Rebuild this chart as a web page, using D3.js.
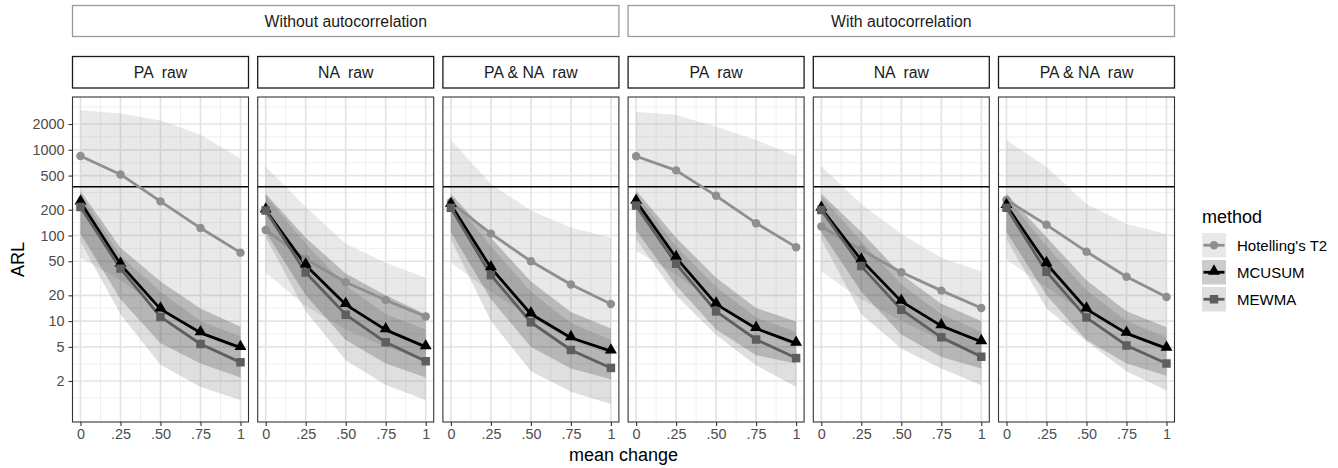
<!DOCTYPE html>
<html>
<head>
<meta charset="utf-8">
<script src="https://cdn.jsdelivr.net/npm/d3@7/dist/d3.min.js"></script>
<style>
  html, body { margin: 0; padding: 0; background: #ffffff; }
  svg { display: block; font-family: 'Liberation Sans', Arial, Helvetica, sans-serif; }
</style>
</head>
<body>
<div id="chart"></div>
<script>
// ARL by mean change, six facets (PA / NA / PA & NA, without / with autocorrelation)
const meanChange = [0, 0.25, 0.5, 0.75, 1]
const xTickLabels = ['0', '.25', '.50', '.75', '1']
const yTicks = [2, 5, 10, 20, 50, 100, 200, 500, 1000, 2000]
const panelLabels = ['PA  raw', 'NA  raw', 'PA & NA  raw', 'PA  raw', 'NA  raw', 'PA & NA  raw']
const groupLabels = ['Without autocorrelation', 'With autocorrelation']
const methods = ["Hotelling's T2", 'MCUSUM', 'MEWMA']
const targetARL = 370

// one row per panel, values at meanChange
const hotellingMean = [
  [847, 516, 250, 122, 63],
  [116, 53, 28.4, 17.6, 11.3],
  [244, 105, 50, 26.7, 15.8],
  [841, 575, 290, 139, 73],
  [127, 67.6, 37.2, 22.7, 14.2],
  [260, 133, 64.7, 32.9, 19.1]
]
const hotellingLow = [
  [55, 30, 14, 7, 4.5],
  [37, 15, 8, 5, 3.5],
  [48, 22, 11, 6, 4],
  [66, 35, 16, 8, 5],
  [38, 18, 10, 6, 4],
  [52, 25, 12, 7, 4.5]
]
const hotellingHigh = [
  [2900, 2650, 2200, 1500, 790],
  [640, 215, 80, 48, 32],
  [1300, 400, 195, 124, 94],
  [2790, 2550, 1860, 1300, 840],
  [641, 233, 104, 55, 38],
  [1300, 630, 233, 136, 104]
]
const mcusumMean = [
  [245, 46, 13.8, 7.3, 4.9],
  [198, 45, 15.6, 7.9, 5.0],
  [229, 41.9, 12.1, 6.4, 4.47],
  [250, 55, 15.8, 8.2, 5.5],
  [207, 51.6, 17, 8.8, 5.75],
  [223, 46.7, 13.8, 7.2, 4.8]
]
const mcusumLow = [
  [105, 18, 5.5, 3.2, 2.2],
  [110, 20, 6, 3.2, 2.2],
  [110, 18, 5, 2.8, 2.1],
  [115, 26, 8, 4, 3.2],
  [110, 22, 7, 3.8, 2.8],
  [110, 20, 6, 3.2, 2.3]
]
const mcusumHigh = [
  [330, 72, 29, 14, 8.6],
  [306, 94, 36, 20, 12],
  [306, 94, 29, 12.8, 8.2],
  [335, 94, 32, 14.2, 9.9],
  [306, 110, 35, 16, 10],
  [306, 95, 30, 13, 8.5]
]
const mewmaMean = [
  [215, 41, 11.2, 5.4, 3.3],
  [195, 37, 11.9, 5.65, 3.4],
  [210, 34.4, 9.7, 4.6, 2.84],
  [223, 46.7, 13, 6.1, 3.7],
  [198, 43.9, 13.6, 6.46, 3.84],
  [210, 37.6, 11, 5.2, 3.2]
]
const mewmaLow = [
  [85, 12, 3.1, 1.7, 1.2],
  [95, 13, 3.5, 1.8, 1.2],
  [90, 10, 2.6, 1.5, 1.08],
  [90, 20, 6.9, 3.06, 1.7],
  [90, 12, 4.8, 2.8, 1.78],
  [90, 14, 5.8, 2.6, 1.55]
]
const mewmaHigh = [
  [300, 58, 22, 10, 6.6],
  [290, 80, 26, 12, 8],
  [280, 75, 22, 9.5, 6],
  [300, 75, 25, 11, 7.5],
  [285, 85, 27, 12, 7.5],
  [280, 75, 23, 10, 6.5]
]

const W = 1338, H = 468
const panelTop = 97, panelBottom = 422
const panelW = 176, panelGap = 9.2, firstLeft = 72.5
const colors = ['#8f8f8f', '#000000', '#5e5e5e']
const symbols = [d3.symbolCircle, d3.symbolTriangle, d3.symbolSquare]
const symbolSizes = [56, 62, 72]
const font = "'Liberation Sans', Arial, Helvetica, sans-serif"

const svg = d3.select('#chart').append('svg').attr('width', W).attr('height', H)

const y = d3.scaleLog().domain([0.664, 4134]).range([panelBottom, panelTop])

// minor breaks: midpoints (in log space) between majors, extended one step each end
const lb = yTicks.map(Math.log10)
const step = lb[1] - lb[0]
const ext = [lb[0] - step, ...lb, lb[lb.length - 1] + step]
const yMinor = d3.range(ext.length - 1).map(i => Math.pow(10, (ext[i] + ext[i + 1]) / 2))
const xMinor = [0.125, 0.375, 0.625, 0.875]

const series = [
  { mean: hotellingMean, low: hotellingLow, high: hotellingHigh },
  { mean: mcusumMean, low: mcusumLow, high: mcusumHigh },
  { mean: mewmaMean, low: mewmaLow, high: mewmaHigh }
]

const lefts = panelLabels.map((_, i) => firstLeft + i * (panelW + panelGap))

// outer strips
groupLabels.forEach((lab, gi) => {
  const x0 = lefts[gi * 3], x1 = lefts[gi * 3 + 2] + panelW
  svg.append('rect').attr('x', x0).attr('y', 5.5).attr('width', x1 - x0).attr('height', 31)
    .attr('fill', '#ffffff').attr('stroke', '#9a9a9a').attr('stroke-width', 1.3)
  svg.append('text').attr('x', (x0 + x1) / 2).attr('y', 21).attr('dy', '0.35em')
    .attr('text-anchor', 'middle').attr('font-size', 15.8).attr('fill', '#1a1a1a').text(lab)
})

panelLabels.forEach((lab, p) => {
  const left = lefts[p]
  const x = d3.scaleLinear().domain([-0.05, 1.05]).range([left, left + panelW])

  // facet strip
  svg.append('rect').attr('x', left).attr('y', 56.5).attr('width', panelW).attr('height', 31.5)
    .attr('fill', '#ffffff').attr('stroke', '#1a1a1a').attr('stroke-width', 1.3)
  svg.append('text').attr('x', left + panelW / 2).attr('y', 72.3).attr('dy', '0.35em')
    .attr('text-anchor', 'middle').attr('font-size', 15.8).attr('fill', '#1a1a1a')
    .style('white-space', 'pre').attr('xml:space', 'preserve').text(lab)

  const clipId = 'clip' + p
  svg.append('clipPath').attr('id', clipId).append('rect')
    .attr('x', left).attr('y', panelTop).attr('width', panelW).attr('height', panelBottom - panelTop)
  const g = svg.append('g').attr('clip-path', `url(#${clipId})`)

  g.append('rect').attr('x', left).attr('y', panelTop).attr('width', panelW)
    .attr('height', panelBottom - panelTop).attr('fill', '#ffffff')

  // grid
  yMinor.forEach(v => g.append('line').attr('x1', left).attr('x2', left + panelW)
    .attr('y1', y(v)).attr('y2', y(v)).attr('stroke', '#efefef').attr('stroke-width', 1))
  xMinor.forEach(v => g.append('line').attr('y1', panelTop).attr('y2', panelBottom)
    .attr('x1', x(v)).attr('x2', x(v)).attr('stroke', '#efefef').attr('stroke-width', 1))
  yTicks.forEach(v => g.append('line').attr('x1', left).attr('x2', left + panelW)
    .attr('y1', y(v)).attr('y2', y(v)).attr('stroke', '#e4e4e4').attr('stroke-width', 1.7))
  meanChange.forEach(v => g.append('line').attr('y1', panelTop).attr('y2', panelBottom)
    .attr('x1', x(v)).attr('x2', x(v)).attr('stroke', '#e4e4e4').attr('stroke-width', 1.7))

  // ribbons
  series.forEach((s, m) => {
    const pts = meanChange.map((mc, i) => ({ mc, lo: s.low[p][i], hi: s.high[p][i] }))
    const area = d3.area().x(d => x(d.mc)).y0(d => y(d.lo)).y1(d => y(d.hi))
    g.append('path').datum(pts).attr('d', area).attr('fill', colors[m]).attr('fill-opacity', 0.2)
  })

  // reference ARL
  g.append('line').attr('x1', left).attr('x2', left + panelW)
    .attr('y1', y(targetARL)).attr('y2', y(targetARL)).attr('stroke', '#000').attr('stroke-width', 1.5)

  // lines
  series.forEach((s, m) => {
    const pts = meanChange.map((mc, i) => ({ mc, v: s.mean[p][i] }))
    const line = d3.line().x(d => x(d.mc)).y(d => y(d.v))
    g.append('path').datum(pts).attr('d', line).attr('fill', 'none')
      .attr('stroke', colors[m]).attr('stroke-width', 2.8).attr('stroke-linejoin', 'round')
  })
  // points
  series.forEach((s, m) => {
    const sym = d3.symbol().type(symbols[m]).size(symbolSizes[m])
    meanChange.forEach((mc, i) => {
      const dy = m === 1 ? -1 : 0
      g.append('path').attr('d', sym())
        .attr('transform', `translate(${x(mc)},${y(s.mean[p][i]) + dy})`)
        .attr('fill', colors[m])
    })
  })

  // panel border
  svg.append('rect').attr('x', left).attr('y', panelTop).attr('width', panelW)
    .attr('height', panelBottom - panelTop).attr('fill', 'none')
    .attr('stroke', '#333333').attr('stroke-width', 1.1)

  // x axis
  const xAxis = d3.axisBottom(x).tickValues(meanChange)
    .tickFormat((d, i) => xTickLabels[i]).tickSize(4).tickPadding(3)
  const gx = svg.append('g').attr('transform', `translate(0,${panelBottom})`).call(xAxis)
  gx.select('.domain').remove()
  gx.selectAll('line').attr('stroke', '#333333').attr('stroke-width', 1.1)
  gx.selectAll('text').attr('fill', '#4d4d4d').attr('font-size', 14.4).attr('font-family', font)

  if (p === 0) {
    const yAxis = d3.axisLeft(y).tickValues(yTicks).tickFormat(d3.format('d')).tickSize(4).tickPadding(4)
    const gy = svg.append('g').attr('transform', `translate(${left},0)`).call(yAxis)
    gy.select('.domain').remove()
    gy.selectAll('line').attr('stroke', '#333333').attr('stroke-width', 1.1)
    gy.selectAll('text').attr('fill', '#4d4d4d').attr('font-size', 14.4).attr('font-family', font)
  }
})

// axis titles
const plotMid = (lefts[0] + lefts[5] + panelW) / 2
svg.append('text').attr('x', plotMid).attr('y', 455).attr('dy', '0.35em')
  .attr('text-anchor', 'middle').attr('font-size', 18).attr('fill', '#000').text('mean change')
svg.append('text').attr('transform', `translate(18,${(panelTop + panelBottom) / 2}) rotate(-90)`)
  .attr('dy', '0.35em').attr('text-anchor', 'middle').attr('font-size', 18).attr('fill', '#000').text('ARL')

// legend
const lg = svg.append('g').attr('transform', 'translate(1202,0)')
lg.append('text').attr('x', 0).attr('y', 223).attr('font-size', 18).attr('fill', '#000').text('method')
methods.forEach((name, m) => {
  const ky = 233 + m * 27
  lg.append('rect').attr('x', 0).attr('y', ky).attr('width', 24).attr('height', 24.5)
    .attr('fill', colors[m]).attr('fill-opacity', 0.2)
  lg.append('line').attr('x1', 1.5).attr('x2', 22.5).attr('y1', ky + 12.25).attr('y2', ky + 12.25)
    .attr('stroke', colors[m]).attr('stroke-width', 2.8)
  lg.append('path').attr('d', d3.symbol().type(symbols[m]).size(symbolSizes[m])())
    .attr('transform', `translate(12,${ky + 12.25 + (m === 1 ? -1 : 0)})`).attr('fill', colors[m])
  lg.append('text').attr('x', 35).attr('y', ky + 12.25).attr('dy', '0.35em')
    .attr('font-size', 15).attr('fill', '#000').text(name)
})
</script>
</body>
</html>
